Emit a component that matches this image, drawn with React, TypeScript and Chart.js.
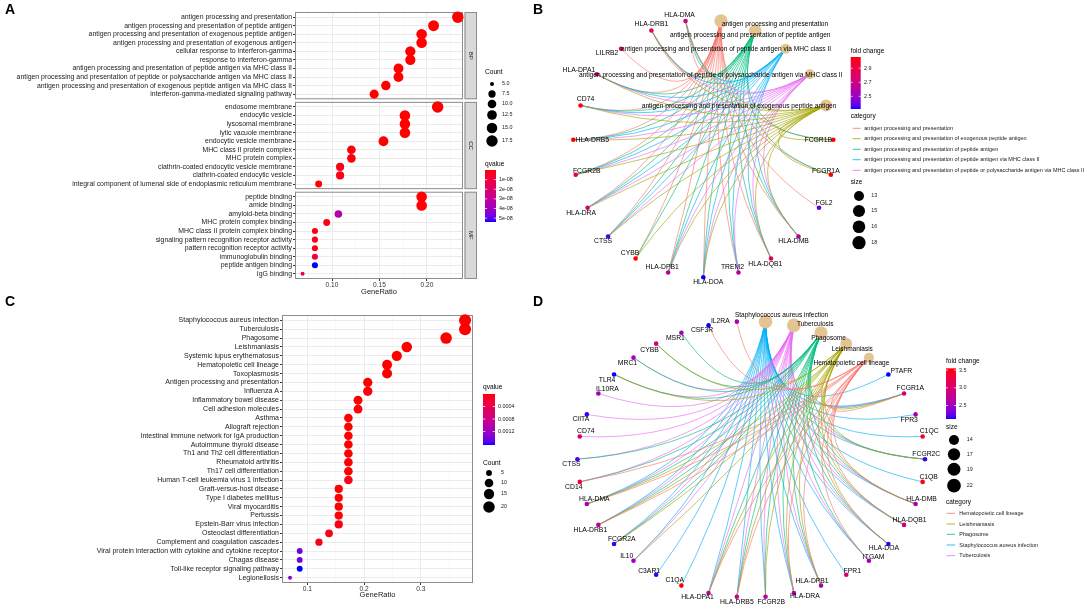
import React, { useEffect, useRef } from "react";
import { Chart, registerables } from "chart.js";

Chart.register(...registerables);

const FONT = "'Liberation Sans', Arial, Helvetica, sans-serif";
Chart.defaults.font.family = FONT;

// ===================== Panel A : GO enrichment =====================
const bpTerms = [
  "antigen processing and presentation",
  "antigen processing and presentation of peptide antigen",
  "antigen processing and presentation of exogenous peptide antigen",
  "antigen processing and presentation of exogenous antigen",
  "cellular response to interferon-gamma",
  "response to interferon-gamma",
  "antigen processing and presentation of peptide antigen via MHC class II",
  "antigen processing and presentation of peptide or polysaccharide antigen via MHC class II",
  "antigen processing and presentation of exogenous peptide antigen via MHC class II",
  "interferon-gamma-mediated signaling pathway",
];
const bpGeneRatio = [0.2325, 0.207, 0.1944, 0.1944, 0.1825, 0.1825, 0.17, 0.17, 0.1567, 0.1444];
const bpCount = [18, 16, 15, 15, 14, 14, 13, 13, 12, 11];
const bpQvalue = [2e-13, 6e-13, 9e-13, 9e-13, 3e-12, 3e-12, 5e-12, 5e-12, 2e-11, 8e-11];

const ccTerms = [
  "endosome membrane",
  "endocytic vesicle",
  "lysosomal membrane",
  "lytic vacuole membrane",
  "endocytic vesicle membrane",
  "MHC class II protein complex",
  "MHC protein complex",
  "clathrin-coated endocytic vesicle membrane",
  "clathrin-coated endocytic vesicle",
  "integral component of lumenal side of endoplasmic reticulum membrane",
];
const ccGeneRatio = [0.2113, 0.1768, 0.1768, 0.1768, 0.1542, 0.1204, 0.1204, 0.1085, 0.1085, 0.0859];
const ccCount = [18, 15, 15, 15, 13, 10, 10, 9, 9, 7];
const ccQvalue = [1e-12, 4e-11, 6e-11, 6e-11, 2e-10, 6e-10, 9e-10, 2e-9, 2e-9, 4e-10];

const mfTerms = [
  "peptide binding",
  "amide binding",
  "amyloid-beta binding",
  "MHC protein complex binding",
  "MHC class II protein complex binding",
  "signaling pattern recognition receptor activity",
  "pattern recognition receptor activity",
  "immunoglobulin binding",
  "peptide antigen binding",
  "IgG binding",
];
const mfGeneRatio = [0.1944, 0.1944, 0.1067, 0.0944, 0.082, 0.082, 0.082, 0.082, 0.082, 0.069];
const mfCount = [15, 15, 8, 7, 6, 6, 6, 6, 6, 5];
const mfQvalue = [3e-10, 3e-10, 3.3e-8, 2e-9, 1e-9, 2e-9, 2e-9, 1.1e-8, 5.4e-8, 1.3e-8];

const goFacetNames = ["BP", "CC", "MF"];
const goXTicks = [0.1, 0.15, 0.2];
const goXTickLabels = ["0.10", "0.15", "0.20"];
const goXMinor = [0.075, 0.125, 0.175, 0.225];
const goQTicks = [1e-8, 2e-8, 3e-8, 4e-8, 5e-8];
const goQTickLabels = ["1e-08", "2e-08", "3e-08", "4e-08", "5e-08"];
const goCountTicks = [5, 7.5, 10, 12.5, 15, 17.5];
const goCountTickLabels = ["5.0", "7.5", "10.0", "12.5", "15.0", "17.5"];

// ===================== Panel C : KEGG enrichment =====================
const keggTerms = [
  "Staphylococcus aureus infection",
  "Tuberculosis",
  "Phagosome",
  "Leishmaniasis",
  "Systemic lupus erythematosus",
  "Hematopoietic cell lineage",
  "Toxoplasmosis",
  "Antigen processing and presentation",
  "Influenza A",
  "Inflammatory bowel disease",
  "Cell adhesion molecules",
  "Asthma",
  "Allograft rejection",
  "Intestinal immune network for IgA production",
  "Autoimmune thyroid disease",
  "Th1 and Th2 cell differentiation",
  "Rheumatoid arthritis",
  "Th17 cell differentiation",
  "Human T-cell leukemia virus 1 infection",
  "Graft-versus-host disease",
  "Type I diabetes mellitus",
  "Viral myocarditis",
  "Pertussis",
  "Epstein-Barr virus infection",
  "Osteoclast differentiation",
  "Complement and coagulation cascades",
  "Viral protein interaction with cytokine and cytokine receptor",
  "Chagas disease",
  "Toll-like receptor signaling pathway",
  "Legionellosis",
];
const keggGeneRatio = [
  0.378, 0.378, 0.3446, 0.2753, 0.2577, 0.2406, 0.2406, 0.2065, 0.2065, 0.1894, 0.1894,
  0.1724, 0.1724, 0.1724, 0.1724, 0.1724, 0.1724, 0.1724, 0.1724,
  0.1554, 0.1554, 0.1554, 0.1554, 0.1554, 0.1383, 0.1206, 0.0866, 0.0866, 0.0866, 0.0695,
];
const keggCount = [22, 22, 20, 16, 15, 14, 14, 12, 12, 11, 11, 10, 10, 10, 10, 10, 10, 10, 10, 9, 9, 9, 9, 9, 8, 7, 5, 5, 5, 4];
const keggQvalue = [
  1e-12, 1e-12, 3e-12, 5e-10, 1e-8, 2e-9, 4e-8, 3e-7, 2e-5, 1e-6, 3e-5, 1e-8, 3e-8, 5e-8, 5e-8,
  2e-6, 4e-6, 8e-6, 6e-5, 5e-6, 4e-6, 2e-5, 2e-5, 6e-5, 8e-5, 9e-5, 0.00142, 0.00142, 0.00163, 0.00128,
];
const keggXTicks = [0.1, 0.2, 0.3];
const keggXTickLabels = ["0.1", "0.2", "0.3"];
const keggXMinor = [0.15, 0.25, 0.35];
const keggQTicks = [0.0004, 0.0008, 0.0012];
const keggQTickLabels = ["0.0004", "0.0008", "0.0012"];
const keggCountTicks = [5, 10, 15, 20];
const keggCountTickLabels = ["5", "10", "15", "20"];

// ===================== Panel B : GO gene-concept network =====================
const bCategories = [
  "antigen processing and presentation",
  "antigen processing and presentation of peptide antigen",
  "antigen processing and presentation of peptide antigen via MHC class II",
  "antigen processing and presentation of peptide or polysaccharide antigen via MHC class II",
  "antigen processing and presentation of exogenous peptide antigen",
];
const bCategorySize = [18, 16, 13, 13, 15];
const bGenes = [
  "FCGR1B", "FCGR1A", "FGL2", "HLA-DMB", "HLA-DQB1", "TREM2", "HLA-DOA", "HLA-DPB1", "CYBB",
  "CTSS", "HLA-DRA", "FCGR2B", "HLA-DRB5", "CD74", "HLA-DPA1", "LILRB2", "HLA-DRB1", "HLA-DMA",
];
const bFoldChange = [3.06, 3.06, 2.38, 2.58, 2.9, 2.6, 2.32, 2.6, 3.05, 2.35, 2.75, 2.84, 3.05, 3.05, 2.8, 2.8, 2.88, 2.72];
const bMembers = [
  ["FCGR1B", "FCGR1A", "FGL2", "HLA-DMB", "HLA-DQB1", "TREM2", "HLA-DOA", "HLA-DPB1", "CYBB", "CTSS", "HLA-DRA", "FCGR2B", "HLA-DRB5", "CD74", "HLA-DPA1", "LILRB2", "HLA-DRB1", "HLA-DMA"],
  ["FCGR1B", "FCGR1A", "HLA-DMB", "HLA-DQB1", "TREM2", "HLA-DOA", "HLA-DPB1", "CYBB", "CTSS", "HLA-DRA", "FCGR2B", "HLA-DRB5", "CD74", "HLA-DPA1", "HLA-DRB1", "HLA-DMA"],
  ["HLA-DMB", "HLA-DQB1", "TREM2", "HLA-DOA", "HLA-DPB1", "CTSS", "HLA-DRA", "FCGR2B", "HLA-DRB5", "CD74", "HLA-DPA1", "HLA-DRB1", "HLA-DMA"],
  ["HLA-DMB", "HLA-DQB1", "TREM2", "HLA-DOA", "HLA-DPB1", "CTSS", "HLA-DRA", "FCGR2B", "HLA-DRB5", "CD74", "HLA-DPA1", "HLA-DRB1", "HLA-DMA"],
  ["FCGR1B", "FCGR1A", "HLA-DMB", "HLA-DQB1", "HLA-DOA", "HLA-DPB1", "CYBB", "CTSS", "HLA-DRA", "FCGR2B", "HLA-DRB5", "CD74", "HLA-DPA1", "HLA-DRB1", "HLA-DMA"],
];
const bFoldTicks = [2.5, 2.7, 2.9];
const bSizeTicks = [13, 15, 16, 18];

// ===================== Panel D : KEGG gene-concept network =====================
const dCategories = [
  "Staphylococcus aureus infection",
  "Tuberculosis",
  "Phagosome",
  "Leishmaniasis",
  "Hematopoietic cell lineage",
];
const dCategorySize = [22, 22, 20, 16, 14];
const dGenes = [
  "PTAFR", "FCGR1A", "FPR3", "C1QC", "FCGR2C", "C1QB", "HLA-DMB", "HLA-DQB1", "HLA-DOA", "ITGAM", "FPR1",
  "HLA-DPB1", "HLA-DRA", "FCGR2B", "HLA-DRB5", "HLA-DPA1", "C1QA", "C3AR1", "IL10", "FCGR2A", "HLA-DRB1",
  "HLA-DMA", "CD14", "CTSS", "CD74", "CIITA", "IL10RA", "TLR4", "MRC1", "CYBB", "MSR1", "CSF3R", "IL2RA",
];
const dFoldChange = [
  2.12, 2.9, 2.55, 3.45, 2.15, 3.45, 2.55, 2.85, 2.15, 2.55, 2.95,
  2.55, 2.6, 2.75, 2.85, 2.75, 3.55, 2.15, 2.5, 2.15, 2.75,
  2.6, 3.3, 2.2, 2.95, 2.15, 2.55, 2.12, 2.6, 2.95, 2.5, 2.12, 2.6,
];
const dMembers = [
  ["PTAFR", "FCGR1A", "FPR3", "C1QC", "FCGR2C", "C1QB", "HLA-DMB", "HLA-DQB1", "HLA-DOA", "ITGAM", "FPR1", "HLA-DPB1", "HLA-DRA", "FCGR2B", "HLA-DRB5", "HLA-DPA1", "C1QA", "C3AR1", "IL10", "FCGR2A", "HLA-DRB1", "HLA-DMA"],
  ["FCGR1A", "FCGR2C", "HLA-DMB", "HLA-DQB1", "HLA-DOA", "ITGAM", "HLA-DPB1", "HLA-DRA", "FCGR2B", "HLA-DRB5", "HLA-DPA1", "IL10", "FCGR2A", "HLA-DRB1", "HLA-DMA", "CD14", "CTSS", "CD74", "CIITA", "IL10RA", "TLR4", "MRC1"],
  ["FCGR1A", "FCGR2C", "HLA-DMB", "HLA-DQB1", "HLA-DOA", "ITGAM", "HLA-DPB1", "HLA-DRA", "FCGR2B", "HLA-DRB5", "HLA-DPA1", "FCGR2A", "HLA-DRB1", "HLA-DMA", "CD14", "CTSS", "TLR4", "MRC1", "CYBB", "MSR1"],
  ["FCGR1A", "FCGR2C", "HLA-DMB", "HLA-DQB1", "HLA-DOA", "HLA-DPB1", "HLA-DRA", "FCGR2B", "HLA-DRB5", "HLA-DPA1", "IL10", "FCGR2A", "HLA-DRB1", "HLA-DMA", "TLR4", "CYBB"],
  ["FCGR1A", "HLA-DMB", "HLA-DQB1", "HLA-DOA", "ITGAM", "HLA-DPB1", "HLA-DRA", "HLA-DRB5", "HLA-DPA1", "HLA-DRB1", "HLA-DMA", "CD14", "CSF3R", "IL2RA"],
];
const dFoldTicks = [2.5, 3.0, 3.5];
const dFoldTickLabels = ["2.5", "3.0", "3.5"];
const dSizeTicks = [14, 17, 19, 22];

const HUE5 = ["#F8766D", "#A3A500", "#00BF7D", "#00B0F6", "#E76BF3"];
const CATEGORY_NODE = "#E5C494";

// ---- label placement (layout only, px offsets from the node) ----
const bGeneNudge: Record<string, [number, number]> = {
  "HLA-DMA": [-6, -6], "HLA-DRB1": [0, -6], LILRB2: [-14, 4], "HLA-DPA1": [-18, -4], CD74: [5, -6],
  "HLA-DRB5": [19, 0], FCGR2B: [11, -4], "HLA-DRA": [-6.5, 5], CTSS: [-5, 5], CYBB: [-5.5, -5],
  "HLA-DPB1": [-6, -5], "HLA-DOA": [5, 5], TREM2: [-6, -5], "HLA-DQB1": [-5.7, 5.6], "HLA-DMB": [-5, 5],
  FGL2: [5, -5], FCGR1A: [-5, -4], FCGR1B: [-15, 0],
};
const bCatNudge: [number, number][] = [[54, 3], [-5, 5], [-59.5, 0], [-99, 1], [-87, 1]];
const dGeneNudge: Record<string, [number, number]> = {
  IL2RA: [-16.5, -1], CSF3R: [-6.5, 5], MSR1: [-6, 5], CYBB: [-6.6, 6], MRC1: [-6, 5.6], TLR4: [-7, 6],
  IL10RA: [9, -4], CIITA: [-6, 5], CD74: [6, -5], CTSS: [-6, 5], CD14: [-6, 5], "HLA-DMA": [7.5, -5],
  "HLA-DRB1": [-8, 5], FCGR2A: [7.7, -5], IL10: [-6.7, -5], C3AR1: [-7, -4], C1QA: [-6.6, -5],
  "HLA-DPA1": [-11, 4], "HLA-DRB5": [0, 5], FCGR2B: [5.7, 5], "HLA-DRA": [11, 3], "HLA-DPB1": [-9, -4.5],
  FPR1: [6, -4], ITGAM: [4.7, -4], "HLA-DOA": [-4.5, 4], "HLA-DQB1": [5.5, -5], "HLA-DMB": [6, -5],
  C1QB: [6, -5], FCGR2C: [1.3, -5], C1QC: [6.5, -5.7], FPR3: [-6.4, 5.3], FCGR1A: [6.3, -5], PTAFR: [13, -3],
};
const dCatNudge: [number, number][] = [[16, -6.7], [21.4, -1], [7.5, 5.6], [6, 6], [-17.5, 5.6]];

// ===================== colour helpers (CIELAB ramp like ggplot2) =====================
type RGB = [number, number, number];
const RED: RGB = [255, 0, 0];
const BLUE: RGB = [0, 0, 255];
function toLin(c: number) {
  const v = c / 255;
  return v <= 0.04045 ? v / 12.92 : Math.pow((v + 0.055) / 1.055, 2.4);
}
function fromLin(c: number) {
  const v = c <= 0.0031308 ? 12.92 * c : 1.055 * Math.pow(Math.max(c, 0), 1 / 2.4) - 0.055;
  return Math.round(Math.min(1, Math.max(0, v)) * 255);
}
function rgb2lab(c: RGB) {
  const R = toLin(c[0]), G = toLin(c[1]), B = toLin(c[2]);
  const X = (0.4124 * R + 0.3576 * G + 0.1805 * B) / 0.95047;
  const Y = 0.2126 * R + 0.7152 * G + 0.0722 * B;
  const Z = (0.0193 * R + 0.1192 * G + 0.9505 * B) / 1.08883;
  const f = (t: number) => (t > 0.008856 ? Math.cbrt(t) : 7.787 * t + 16 / 116);
  const fx = f(X), fy = f(Y), fz = f(Z);
  return [116 * fy - 16, 500 * (fx - fy), 200 * (fy - fz)];
}
function lab2rgb(l: number[]): RGB {
  const fy = (l[0] + 16) / 116, fx = fy + l[1] / 500, fz = fy - l[2] / 200;
  const inv = (t: number) => (t * t * t > 0.008856 ? t * t * t : (t - 16 / 116) / 7.787);
  const X = inv(fx) * 0.95047, Y = inv(fy), Z = inv(fz) * 1.08883;
  const R = 3.2406 * X - 1.5372 * Y - 0.4986 * Z;
  const G = -0.9689 * X + 1.8758 * Y + 0.0415 * Z;
  const B = 0.0557 * X - 0.204 * Y + 1.057 * Z;
  return [fromLin(R), fromLin(G), fromLin(B)];
}
function ramp(a: RGB, b: RGB, t: number) {
  const tt = Math.min(1, Math.max(0, t));
  const la = rgb2lab(a), lb = rgb2lab(b);
  const c = lab2rgb(la.map((v, i) => v + (lb[i] - v) * tt));
  return `rgb(${c[0]},${c[1]},${c[2]})`;
}
const qColor = (q: number, lo: number, hi: number) => ramp(RED, BLUE, (q - lo) / (hi - lo));
const fcColor = (v: number, lo: number, hi: number) => ramp(BLUE, RED, (v - lo) / (hi - lo));

// ===================== drawing helpers =====================
function txt(ctx: any, s: string, x: number, y: number, size: number, align: any = "left", color = "#000") {
  ctx.font = `${size}px ${FONT}`;
  ctx.fillStyle = color;
  ctx.textAlign = align;
  ctx.textBaseline = "middle";
  ctx.fillText(s, x, y);
}
function colorbar(ctx: any, x: number, y: number, w: number, h: number, colorAt: (f: number) => string,
  ticks: { f: number; label: string }[], labelX: number, size: number) {
  const g = ctx.createLinearGradient(0, y, 0, y + h);
  for (let i = 0; i <= 40; i++) g.addColorStop(i / 40, colorAt(i / 40));
  ctx.fillStyle = g;
  ctx.fillRect(x, y, w, h);
  ctx.strokeStyle = "#fff";
  ctx.lineWidth = 0.7;
  ticks.forEach((t) => {
    const ty = y + t.f * h;
    ctx.beginPath();
    ctx.moveTo(x, ty); ctx.lineTo(x + w * 0.2, ty);
    ctx.moveTo(x + w, ty); ctx.lineTo(x + w * 0.8, ty);
    ctx.stroke();
    txt(ctx, t.label, labelX, ty, size, "left", "#1a1a1a");
  });
}
function sizeLegend(ctx: any, x: number, ys: number[], values: number[], labels: string[],
  diam: (v: number) => number, labelX: number, size: number) {
  values.forEach((v, i) => {
    ctx.beginPath();
    ctx.arc(x, ys[i], diam(v) / 2, 0, Math.PI * 2);
    ctx.fillStyle = "#000";
    ctx.fill();
    txt(ctx, labels[i], labelX, ys[i], size, "left", "#1a1a1a");
  });
}

// ===================== dot plot builder =====================
function buildDot(canvas: HTMLCanvasElement, p: any) {
  const labelAt = new Map<number, string>(p.rows.map((r: number, i: number) => [r, p.labels[i]]));
  const eq = (a: number, b: number) => Math.abs(a - b) < 1e-9;
  const isMajor = (v: number) => p.majorTicks.some((m: number) => eq(m, v));
  const majorLabel = (v: number) => {
    const i = p.majorTicks.findIndex((m: number) => eq(m, v));
    return i >= 0 ? p.majorLabels[i] : "";
  };
  const gridTicks = [...p.majorTicks, ...p.minorTicks].sort((a: number, b: number) => a - b);
  const frame = {
    id: "frame",
    beforeDatasetsDraw(chart: any) {
      const { ctx, chartArea: ca, scales } = chart;
      const y = scales.y;
      ctx.save();
      ctx.fillStyle = "#fff";
      for (let i = 0; i < p.facets.length - 1; i++) {
        const y1 = y.getPixelForValue(p.facets[i].to);
        const y2 = y.getPixelForValue(p.facets[i + 1].from);
        ctx.fillRect(ca.left - 0.5, y1, ca.right - ca.left + 1, y2 - y1);
      }
      ctx.strokeStyle = "#8c8c8c";
      ctx.lineWidth = 1;
      p.facets.forEach((f: any) => {
        const t = y.getPixelForValue(f.from), b = y.getPixelForValue(f.to);
        ctx.strokeRect(ca.left + 0.5, t + 0.5, ca.right - ca.left - 1, b - t - 1);
        if (f.name) {
          const sx = ca.right + 1.5, sw = 12.5;
          ctx.fillStyle = "#D9D9D9";
          ctx.fillRect(sx, t, sw, b - t);
          ctx.strokeRect(sx + 0.5, t + 0.5, sw - 1, b - t - 1);
          ctx.save();
          ctx.translate(sx + sw / 2, (t + b) / 2);
          ctx.rotate(Math.PI / 2);
          txt(ctx, f.name, 0, 0, 6, "center", "#1a1a1a");
          ctx.restore();
        }
      });
      ctx.restore();
    },
  };
  const legend = { id: "legendDraw", afterDraw(chart: any) { chart.ctx.save(); p.legend(chart.ctx); chart.ctx.restore(); } };
  return new Chart(canvas, {
    type: "scatter",
    data: {
      datasets: [{
        data: p.rows.map((r: number, i: number) => ({ x: p.ratio[i], y: r })),
        pointRadius: p.count.map((c: number) => p.diam(c) / 2),
        pointHoverRadius: p.count.map((c: number) => p.diam(c) / 2),
        pointBackgroundColor: p.q.map((q: number) => qColor(q, p.qMin, p.qMax)),
        pointBorderWidth: 0,
        pointBorderColor: "rgba(0,0,0,0)",
        clip: false,
      } as any],
    },
    options: {
      responsive: false,
      animation: false,
      events: [],
      layout: { padding: p.padding },
      plugins: { legend: { display: false }, tooltip: { enabled: false } },
      scales: {
        x: {
          type: "linear", position: "bottom", min: p.xMin, max: p.xMax,
          afterBuildTicks: (ax: any) => { ax.ticks = gridTicks.map((v: number) => ({ value: v })); },
          afterFit: (ax: any) => { ax.height = p.xHeight; },
          ticks: { autoSkip: false, maxRotation: 0, callback: (v: any) => majorLabel(Number(v)), font: { size: p.tickSize, lineHeight: 1 }, color: "#333", padding: 1 },
          grid: {
            color: (c: any) => (c.tick && isMajor(c.tick.value) ? "#EBEBEB" : "#F4F4F4"),
            lineWidth: (c: any) => (c.tick && isMajor(c.tick.value) ? 1 : 0.6),
            tickColor: (c: any) => (c.tick && isMajor(c.tick.value) ? "#333" : "rgba(0,0,0,0)"),
            tickLength: 2,
          },
          border: { display: false },
          title: { display: true, text: "GeneRatio", color: "#1a1a1a", font: { size: p.titleSize, lineHeight: 1 }, padding: { top: 0, bottom: p.titlePad } },
        } as any,
        y: {
          type: "linear", reverse: true, min: p.yMin, max: p.yMax,
          afterBuildTicks: (ax: any) => { ax.ticks = p.rows.map((v: number) => ({ value: v })); },
          afterFit: (ax: any) => { ax.width = p.yWidth; },
          ticks: { autoSkip: false, callback: (v: any) => labelAt.get(Number(v)) ?? "", font: { size: p.labelSize, lineHeight: 1 }, color: "#1a1a1a", padding: 1 },
          grid: { color: "#EBEBEB", lineWidth: 1, tickColor: "#333", tickLength: 2 },
          border: { display: false },
        } as any,
      },
    } as any,
    plugins: [frame, legend] as any,
  });
}

// ===================== network builder =====================
function buildNet(canvas: HTMLCanvasElement, p: any) {
  const nc = p.categories.length;
  const n = nc + p.genes.length;
  const pos = Array.from({ length: n }, (_, k) => {
    const th = (2 * Math.PI * (k + 0.5)) / n;
    return { x: Math.sin(th), y: Math.cos(th) };
  });
  const sorted = [...p.categories].sort();
  const catColor = (c: string) => HUE5[sorted.indexOf(c)];
  const fcMin = Math.min(...p.fc), fcMax = Math.max(...p.fc);
  const S = 0.8;
  const edges = {
    id: "edges",
    beforeDatasetsDraw(chart: any) {
      const { ctx, scales } = chart;
      const X = scales.x, Y = scales.y;
      const cx = X.getPixelForValue(0), cy = Y.getPixelForValue(0);
      const px = (pt: any) => ({ x: X.getPixelForValue(pt.x), y: Y.getPixelForValue(pt.y) });
      ctx.save();
      ctx.lineWidth = 0.8;
      ctx.globalAlpha = 0.8;
      p.categories.forEach((cat: string, ci: number) => {
        const a = px(pos[ci]);
        ctx.strokeStyle = catColor(cat);
        p.members[ci].forEach((g: string) => {
          const gi = p.genes.indexOf(g);
          if (gi < 0) return;
          const b = px(pos[nc + gi]);
          const mx = (a.x + b.x) / 2, my = (a.y + b.y) / 2;
          const qx = mx + (cx - mx) * S, qy = my + (cy - my) * S;
          ctx.beginPath();
          ctx.moveTo(a.x, a.y);
          ctx.quadraticCurveTo(qx, qy, b.x, b.y);
          ctx.stroke();
        });
      });
      ctx.restore();
    },
  };
  const labels = {
    id: "labels",
    afterDatasetsDraw(chart: any) {
      const { ctx, scales } = chart;
      const X = scales.x, Y = scales.y;
      ctx.save();
      p.categories.forEach((c: string, i: number) => {
        const x = X.getPixelForValue(pos[i].x), y = Y.getPixelForValue(pos[i].y);
        const nd = p.catNudge[i];
        txt(ctx, c, x + nd[0], y + nd[1], p.catFont, "center", "#000");
      });
      p.genes.forEach((g: string, i: number) => {
        const pt = pos[nc + i];
        const x = X.getPixelForValue(pt.x), y = Y.getPixelForValue(pt.y);
        const nd = p.geneNudge[g] || [0, -6];
        txt(ctx, g, x + nd[0], y + nd[1], p.geneFont, "center", "#000");
      });
      ctx.restore();
    },
  };
  const legend = {
    id: "netLegend",
    afterDraw(chart: any) {
      const ctx = chart.ctx;
      ctx.save();
      p.legend(ctx, fcMin, fcMax, sorted, catColor);
      ctx.restore();
    },
  };
  return new Chart(canvas, {
    type: "scatter",
    data: {
      datasets: [
        {
          data: p.genes.map((_: string, i: number) => pos[nc + i]),
          pointRadius: 2.3,
          pointHoverRadius: 2.3,
          pointBackgroundColor: p.fc.map((v: number) => fcColor(v, fcMin, fcMax)),
          pointBorderWidth: 0,
          pointBorderColor: "rgba(0,0,0,0)",
          clip: false,
        } as any,
        {
          data: p.categories.map((_: string, i: number) => pos[i]),
          pointRadius: p.catSize.map((s: number) => p.catDiam(s) / 2),
          pointHoverRadius: p.catSize.map((s: number) => p.catDiam(s) / 2),
          pointBackgroundColor: CATEGORY_NODE,
          pointBorderWidth: 0,
          pointBorderColor: "rgba(0,0,0,0)",
          clip: false,
        } as any,
      ],
    },
    options: {
      responsive: false,
      animation: false,
      events: [],
      layout: { padding: p.padding },
      plugins: { legend: { display: false }, tooltip: { enabled: false } },
      scales: {
        x: { type: "linear", display: false, min: -1, max: 1 },
        y: { type: "linear", display: false, min: -1, max: 1 },
      },
    } as any,
    plugins: [edges, labels, legend] as any,
  });
}

// ===================== panel specs =====================
function panelA(canvas: HTMLCanvasElement) {
  const rows = [
    ...bpTerms.map((_, i) => i),
    ...ccTerms.map((_, i) => 10.5 + i),
    ...mfTerms.map((_, i) => 21 + i),
  ];
  const q = [...bpQvalue, ...ccQvalue, ...mfQvalue];
  const qMin = Math.min(...q), qMax = Math.max(...q);
  const diam = (c: number) => 4 + 7.5 * Math.sqrt(Math.max(0, (c - 5) / 13));
  return buildDot(canvas, {
    labels: [...bpTerms, ...ccTerms, ...mfTerms],
    rows,
    ratio: [...bpGeneRatio, ...ccGeneRatio, ...mfGeneRatio],
    count: [...bpCount, ...ccCount, ...mfCount],
    q, qMin, qMax, diam,
    xMin: 0.061, xMax: 0.238,
    majorTicks: goXTicks, majorLabels: goXTickLabels, minorTicks: goXMinor,
    yMin: -0.6, yMax: 30.6,
    yWidth: 295, xHeight: 21,
    padding: { left: 0, right: 77, top: 12, bottom: 0 },
    labelSize: 6.9, tickSize: 6.6, titleSize: 7.5, titlePad: 4.5,
    facets: [
      { name: goFacetNames[0], from: -0.6, to: 9.6 },
      { name: goFacetNames[1], from: 9.9, to: 20.1 },
      { name: goFacetNames[2], from: 20.4, to: 30.6 },
    ],
    legend: (ctx: any) => {
      txt(ctx, "Count", 485, 72, 6.6);
      sizeLegend(ctx, 492, [84, 94, 104, 115, 128, 141], goCountTicks, goCountTickLabels, diam, 502, 5.4);
      txt(ctx, "qvalue", 485, 164, 6.6);
      colorbar(ctx, 485, 170, 11, 52, (f) => qColor(qMin + f * (qMax - qMin), qMin, qMax),
        goQTicks.map((v, i) => ({ f: (v - qMin) / (qMax - qMin), label: goQTickLabels[i] })), 499, 5.4);
    },
  });
}

function panelC(canvas: HTMLCanvasElement) {
  const rows = keggTerms.map((_, i) => i);
  const qMin = Math.min(...keggQvalue), qMax = Math.max(...keggQvalue);
  const diam = (c: number) => 4 + 8 * Math.sqrt(Math.max(0, (c - 4) / 18));
  return buildDot(canvas, {
    labels: keggTerms, rows, ratio: keggGeneRatio, count: keggCount, q: keggQvalue, qMin, qMax, diam,
    xMin: 0.0554, xMax: 0.392,
    majorTicks: keggXTicks, majorLabels: keggXTickLabels, minorTicks: keggXMinor,
    yMin: -0.6, yMax: 29.6,
    yWidth: 282, xHeight: 25,
    padding: { left: 0, right: 67, top: 15, bottom: 0 },
    labelSize: 7.0, tickSize: 6.6, titleSize: 7.5, titlePad: 9,
    facets: [{ name: "", from: -0.6, to: 29.6 }],
    legend: (ctx: any) => {
      txt(ctx, "qvalue", 483, 87, 6.6);
      colorbar(ctx, 483, 94, 12, 51, (f) => qColor(qMin + f * (qMax - qMin), qMin, qMax),
        keggQTicks.map((v, i) => ({ f: (v - qMin) / (qMax - qMin), label: keggQTickLabels[i] })), 498, 5.4);
      txt(ctx, "Count", 483, 163, 6.6);
      sizeLegend(ctx, 489, [173, 183, 194, 207], keggCountTicks, keggCountTickLabels, diam, 501, 5.4);
    },
  });
}

function categoryLegend(ctx: any, sorted: string[], catColor: any, x0: number, x1: number, tx: number, ys: number[]) {
  sorted.forEach((c, i) => {
    ctx.strokeStyle = catColor(c);
    ctx.globalAlpha = 0.8;
    ctx.lineWidth = 1;
    ctx.beginPath();
    ctx.moveTo(x0, ys[i]);
    ctx.lineTo(x1, ys[i]);
    ctx.stroke();
    ctx.globalAlpha = 1;
    txt(ctx, c, tx, ys[i], 5.5, "left", "#1a1a1a");
  });
}

function panelB(canvas: HTMLCanvasElement) {
  const catDiam = (s: number) => 10 + 3.3 * Math.sqrt(Math.max(0, (s - 13) / 5));
  return buildNet(canvas, {
    categories: bCategories, catSize: bCategorySize, genes: bGenes, fc: bFoldChange, members: bMembers,
    padding: { left: 33, right: 250.4, top: 19.8, bottom: 22.7 },
    catDiam, geneNudge: bGeneNudge, catNudge: bCatNudge, geneFont: 6.8, catFont: 6.6,
    legend: (ctx: any, lo: number, hi: number, sorted: string[], catColor: any) => {
      txt(ctx, "fold change", 310.7, 51, 6.5);
      colorbar(ctx, 310.7, 57, 10, 52, (f) => fcColor(hi - f * (hi - lo), lo, hi),
        bFoldTicks.map((v) => ({ f: (hi - v) / (hi - lo), label: v.toFixed(1) })), 324, 5.4);
      txt(ctx, "category", 310.7, 116.7, 6.5);
      categoryLegend(ctx, sorted, catColor, 312.7, 320.7, 324.3, [128.3, 138.7, 149.3, 159.7, 170.3]);
      txt(ctx, "size", 310.7, 182.7, 6.5);
      sizeLegend(ctx, 319, [196, 211, 226.7, 242.7], bSizeTicks, bSizeTicks.map(String), catDiam, 331.3, 5.4);
    },
  });
}

function panelD(canvas: HTMLCanvasElement) {
  const catDiam = (s: number) => 10 + 3.7 * Math.sqrt(Math.max(0, (s - 14) / 8));
  return buildNet(canvas, {
    categories: dCategories, catSize: dCategorySize, genes: dGenes, fc: dFoldChange, members: dMembers,
    padding: { left: 37.4, right: 159, top: 21.2, bottom: 10.8 },
    catDiam, geneNudge: dGeneNudge, catNudge: dCatNudge, geneFont: 6.8, catFont: 6.5,
    legend: (ctx: any, lo: number, hi: number, sorted: string[], catColor: any) => {
      txt(ctx, "fold change", 406, 61.7, 6.5);
      colorbar(ctx, 406, 68.3, 10, 50.7, (f) => fcColor(hi - f * (hi - lo), lo, hi),
        dFoldTicks.map((v, i) => ({ f: (hi - v) / (hi - lo), label: dFoldTickLabels[i] })), 419, 5.4);
      txt(ctx, "size", 406, 127.3, 6.5);
      sizeLegend(ctx, 414, [140, 154.3, 169.3, 185.7], dSizeTicks, dSizeTicks.map(String), catDiam, 426.7, 5.4);
      txt(ctx, "category", 406, 202.3, 6.5);
      categoryLegend(ctx, sorted, catColor, 406.7, 415, 419.3, [213.3, 224, 234.3, 245, 255.7]);
    },
  });
}

// ===================== component =====================
const letterStyle = (left: number, top: number): React.CSSProperties => ({
  position: "absolute", left, top, fontFamily: FONT, fontWeight: "bold", fontSize: 14, lineHeight: "14px", color: "#000",
});
const canvasStyle = (left: number, top: number, w: number, h: number): React.CSSProperties => ({
  position: "absolute", left, top, width: w, height: h,
});

export default function App() {
  const aRef = useRef<HTMLCanvasElement>(null);
  const bRef = useRef<HTMLCanvasElement>(null);
  const cRef = useRef<HTMLCanvasElement>(null);
  const dRef = useRef<HTMLCanvasElement>(null);

  useEffect(() => {
    const charts = [
      panelA(aRef.current as HTMLCanvasElement),
      panelB(bRef.current as HTMLCanvasElement),
      panelC(cRef.current as HTMLCanvasElement),
      panelD(dRef.current as HTMLCanvasElement),
    ];
    return () => charts.forEach((c) => c.destroy());
  }, []);

  return (
    <div style={{ position: "absolute", left: 0, top: 0, width: 1084, height: 608, background: "#fff", overflow: "hidden" }}>
      <canvas ref={aRef} width={540} height={300} style={canvasStyle(0, 0, 540, 300)} />
      <canvas ref={bRef} width={544} height={300} style={canvasStyle(540, 0, 544, 300)} />
      <canvas ref={cRef} width={540} height={308} style={canvasStyle(0, 300, 540, 308)} />
      <canvas ref={dRef} width={544} height={308} style={canvasStyle(540, 300, 544, 308)} />
      <div style={letterStyle(5, 1.5)}>A</div>
      <div style={letterStyle(533, 1.5)}>B</div>
      <div style={letterStyle(5, 294)}>C</div>
      <div style={letterStyle(533, 294)}>D</div>
    </div>
  );
}
